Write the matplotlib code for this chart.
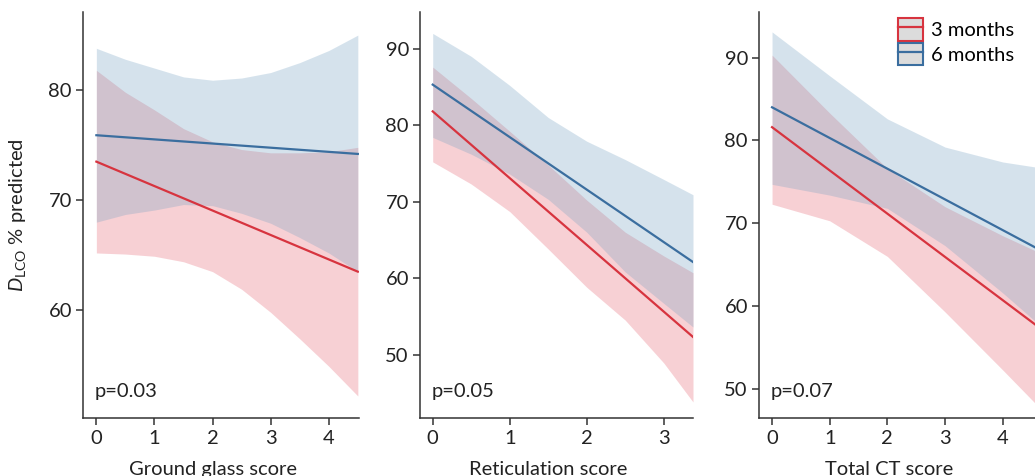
import numpy as np
import matplotlib.pyplot as plt
from matplotlib.patches import Patch
from matplotlib.lines import Line2D

plt.rcParams['font.family'] = ['Lato', 'DejaVu Sans']
plt.rcParams['mathtext.fontset'] = 'custom'
plt.rcParams['mathtext.rm'] = 'Lato'
plt.rcParams['mathtext.it'] = 'Lato:italic'
plt.rcParams['font.size'] = 14.5

# panel 1 - ground glass score
gg_x = [0, 0.5, 1, 1.5, 2, 2.5, 3, 3.5, 4, 4.5]
gg_m3_up = [81.8, 79.8, 78.2, 76.5, 75.3, 74.6, 74.3, 74.3, 74.4, 74.8]
gg_m3_lo = [65.2, 65.1, 64.9, 64.4, 63.5, 61.9, 59.8, 57.4, 54.9, 52.2]
gg_m6_up = [83.8, 82.8, 82.0, 81.2, 80.9, 81.1, 81.6, 82.5, 83.6, 85.0]
gg_m6_lo = [68.0, 68.7, 69.1, 69.6, 69.5, 68.8, 67.9, 66.6, 65.2, 63.5]
gg_line_x = [0, 4.5]
gg_m3 = [73.5, 63.5]
gg_m6 = [75.9, 74.2]

# panel 2 - reticulation score
ret_x = [0, 0.5, 1, 1.5, 2, 2.5, 3, 3.38]
ret_m3_up = [87.6, 83.5, 79.2, 74.8, 70.2, 66.0, 62.9, 60.7]
ret_m3_lo = [75.2, 72.3, 68.7, 63.8, 58.8, 54.5, 48.9, 43.8]
ret_m6_up = [92.0, 89.0, 85.2, 81.0, 77.9, 75.5, 72.9, 70.9]
ret_m6_lo = [78.4, 76.2, 73.6, 70.3, 66.0, 60.8, 56.7, 53.6]
ret_line_x = [0, 3.38]
ret_m3 = [81.8, 52.3]
ret_m6 = [85.3, 62.1]

# panel 3 - total CT score
ct_x = [0, 1, 2, 3, 4, 4.56]
ct_m3_up = [90.3, 83.3, 76.6, 72.0, 68.5, 66.7]
ct_m3_lo = [72.3, 70.3, 66.0, 59.3, 52.3, 48.3]
ct_m6_up = [93.1, 87.8, 82.6, 79.2, 77.4, 76.8]
ct_m6_lo = [74.7, 73.4, 71.8, 67.3, 61.6, 58.2]
ct_line_x = [0, 4.56]
ct_m3 = [81.6, 57.8]
ct_m6 = [84.0, 67.1]

panels = [
    dict(x=gg_x, r_up=gg_m3_up, r_lo=gg_m3_lo, b_up=gg_m6_up, b_lo=gg_m6_lo,
         lx=gg_line_x, r=gg_m3, b=gg_m6, p='p=0.03', xlabel='Ground glass score',
         xticks=[0, 1, 2, 3, 4], yticks=[60, 70, 80], xlim=(-0.23, 4.52), ylim=(50.2, 87.1),
         pos=[83, 359]),
    dict(x=ret_x, r_up=ret_m3_up, r_lo=ret_m3_lo, b_up=ret_m6_up, b_lo=ret_m6_lo,
         lx=ret_line_x, r=ret_m3, b=ret_m6, p='p=0.05', xlabel='Reticulation score',
         xticks=[0, 1, 2, 3], yticks=[50, 60, 70, 80, 90], xlim=(-0.165, 3.38), ylim=(41.7, 94.8),
         pos=[420, 693]),
    dict(x=ct_x, r_up=ct_m3_up, r_lo=ct_m3_lo, b_up=ct_m6_up, b_lo=ct_m6_lo,
         lx=ct_line_x, r=ct_m3, b=ct_m6, p='p=0.07', xlabel='Total CT score',
         xticks=[0, 1, 2, 3, 4], yticks=[50, 60, 70, 80, 90], xlim=(-0.226, 4.56), ylim=(46.5, 95.5),
         pos=[759, 1035]),
]

red = '#d7343f'
blue = '#3b6e9f'
red_fill = (225/255, 75/255, 92/255, 0.26)
blue_fill = (118/255, 162/255, 195/255, 0.30)
W, H = 1035, 476

fig = plt.figure(figsize=(W/100, H/100), dpi=100)
axes = []
for pnl in panels:
    l, r = pnl['pos']
    ax = fig.add_axes([l/W, (H-418)/H, (r-l)/W, (418-12)/H])
    ax.fill_between(pnl['x'], pnl['r_lo'], pnl['r_up'], color=red_fill, lw=0)
    ax.fill_between(pnl['x'], pnl['b_lo'], pnl['b_up'], color=blue_fill, lw=0)
    ax.plot(pnl['lx'], pnl['r'], color=red, lw=1.6)
    ax.plot(pnl['lx'], pnl['b'], color=blue, lw=1.6)
    ax.set_xlim(pnl['xlim'])
    ax.set_ylim(pnl['ylim'])
    ax.set_xticks(pnl['xticks'])
    ax.set_yticks(pnl['yticks'])
    for s in ['top', 'right']:
        ax.spines[s].set_visible(False)
    for s in ['left', 'bottom']:
        ax.spines[s].set_color('#333333')
        ax.spines[s].set_linewidth(1.1)
    ax.tick_params(length=5, width=1.1, color='#333333', labelcolor='#222222')
    ax.tick_params(axis='x', pad=4)
    ax.tick_params(axis='y', pad=3)
    ax.set_xlabel(pnl['xlabel'], color='#222222')
    ax.xaxis.set_label_coords(0.47, -0.105)
    ax.text(0.043, 0.052, pnl['p'], transform=ax.transAxes, va='baseline', color='#222222')
    axes.append(ax)

axes[0].set_ylabel(r'$D_{\mathrm{LCO}}$ % predicted', color='#222222')
axes[0].yaxis.set_label_coords(-0.2, 0.5)

h3 = (Patch(facecolor='#dcdcdc', edgecolor=red, lw=1.5), Line2D([], [], color=red, lw=1.6))
h6 = (Patch(facecolor='#dcdcdc', edgecolor=blue, lw=1.5), Line2D([], [], color=blue, lw=1.6))
axes[2].legend([h3, h6], ['3 months', '6 months'], loc='upper left',
               bbox_to_anchor=(0.504, 0.985), frameon=False, borderpad=0, borderaxespad=0,
               handlelength=1.25, handleheight=1.35, handletextpad=0.4, labelspacing=0.1)

plt.savefig('out.png', dpi=100)
